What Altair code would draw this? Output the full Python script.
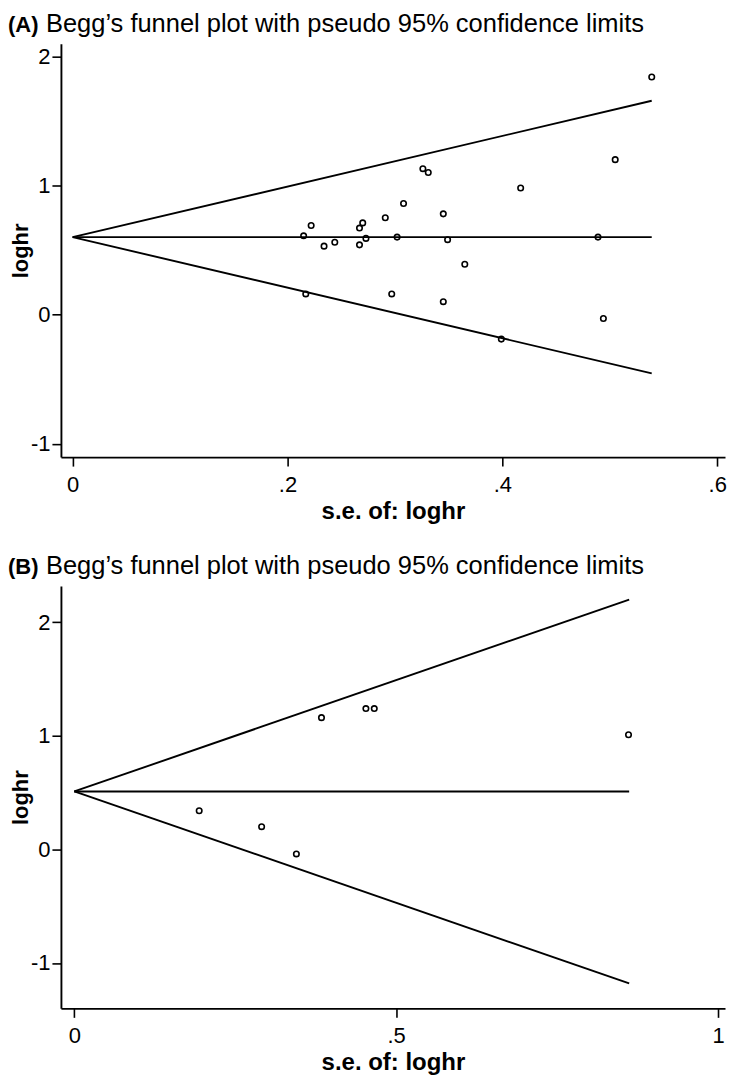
import altair as alt
import pandas as pd

FONT = "Liberation Sans, Arial, Helvetica, sans-serif"

# ---------------- Panel A data ----------------
se_A = [0.215, 0.222, 0.234, 0.244, 0.267, 0.270, 0.267, 0.273, 0.291, 0.308,
        0.302, 0.326, 0.331, 0.345, 0.349, 0.365, 0.217, 0.297, 0.345, 0.399,
        0.417, 0.505, 0.489, 0.494, 0.539]
loghr_A = [0.61, 0.69, 0.53, 0.56, 0.67, 0.71, 0.54, 0.59, 0.75, 0.86,
           0.60, 1.13, 1.10, 0.78, 0.58, 0.39, 0.16, 0.16, 0.10, -0.19,
           0.98, 1.20, 0.60, -0.03, 1.84]
funnel_se_A = [0.0, 0.539]
funnel_center_A = [0.60, 0.60]
funnel_upper_A = [0.60, 1.656]
funnel_lower_A = [0.60, -0.456]
xticks_A = [0, 0.2, 0.4, 0.6]
xdomain_A = [-0.0109, 0.6072]
ydomain_A = [-1.104, 2.098]

# ---------------- Panel B data ----------------
se_B = [0.194, 0.291, 0.345, 0.384, 0.453, 0.466, 0.861]
loghr_B = [0.34, 0.20, -0.04, 1.16, 1.24, 1.24, 1.01]
funnel_se_B = [0.0, 0.862]
funnel_center_B = [0.51, 0.51]
funnel_upper_B = [0.51, 2.20]
funnel_lower_B = [0.51, -1.18]
xticks_B = [0, 0.5, 1]
xdomain_B = [-0.0208, 1.0109]
ydomain_B = [-1.40, 2.32]

yticks = [-1, 0, 1, 2]
TITLE = "Begg\u2019s funnel plot with pseudo 95% confidence limits"


def panel(tag, se, lh, fse, fc, fu, fl, xticks, xdom, ydom, w, h):
    pts = pd.DataFrame({"se": se, "loghr": lh})
    rows = []
    for name, vals in (("center", fc), ("upper", fu), ("lower", fl)):
        for s, v in zip(fse, vals):
            rows.append({"se": s, "loghr": v, "line": name})
    lines = pd.DataFrame(rows)

    xenc = alt.X(
        "se:Q",
        scale=alt.Scale(domain=xdom, nice=False, zero=False),
        axis=alt.Axis(
            values=xticks,
            title="s.e. of: loghr",
            labelExpr="datum.value == 0 ? '0' : datum.value == 1 ? '1' : replace(format(datum.value, '.1f'), '0.', '.')",
        ),
    )
    yenc = alt.Y(
        "loghr:Q",
        scale=alt.Scale(domain=ydom, nice=False, zero=False),
        axis=alt.Axis(
            values=yticks,
            title="loghr",
            labelExpr="'' + datum.value",
            titleX=-33,
            titleY=h / 2,
            titleAngle=270,
            titleBaseline="alphabetic",
            titleAlign="center",
            titleFontSize=22,
        ),
    )

    line_layer = alt.Chart(lines).mark_line(color="black", strokeWidth=1.9).encode(
        x=xenc, y=yenc, detail="line:N"
    )
    pt_layer = alt.Chart(pts).mark_point(
        shape="circle", filled=False, color="black", size=30, strokeWidth=1.6, opacity=1
    ).encode(x="se:Q", y="loghr:Q")

    lab = pd.DataFrame({"t": [tag]})
    tag_layer = alt.Chart(lab).mark_text(
        font=FONT, fontSize=22, fontWeight="bold", align="left", baseline="alphabetic", color="black"
    ).encode(x=alt.value(-53), y=alt.value(-11.5), text="t:N")
    ttl = pd.DataFrame({"t": [TITLE]})
    title_layer = alt.Chart(ttl).mark_text(
        font=FONT, fontSize=25.5, align="left", baseline="alphabetic", color="black"
    ).encode(x=alt.value(-15), y=alt.value(-11.5), text="t:N")

    return alt.layer(line_layer, pt_layer, tag_layer, title_layer).properties(width=w, height=h)


pA = panel("(A)", se_A, loghr_A, funnel_se_A, funnel_center_A, funnel_upper_A, funnel_lower_A,
           xticks_A, xdomain_A, ydomain_A, 665, 414)
pB = panel("(B)", se_B, loghr_B, funnel_se_B, funnel_center_B, funnel_upper_B, funnel_lower_B,
           xticks_B, xdomain_B, ydomain_B, 665, 423)

chart = alt.vconcat(pA, pB, spacing=31).properties(
    padding={"left": 0, "top": 3, "right": 0, "bottom": 0}
).configure_view(
    stroke=None
).configure_axis(
    grid=False,
    domainColor="black",
    domainWidth=1.9,
    tickColor="black",
    tickWidth=1.6,
    tickSize=9,
    labelFont=FONT,
    labelFontSize=22,
    labelColor="black",
    labelFlush=False,
    titleFont=FONT,
    titleFontSize=24,
    titleFontWeight="bold",
    titleColor="black",
).configure_axisY(labelPadding=2).configure_axisX(labelPadding=8, titlePadding=4)

chart.save("out.html", embed_options={"renderer": "svg", "actions": False})
